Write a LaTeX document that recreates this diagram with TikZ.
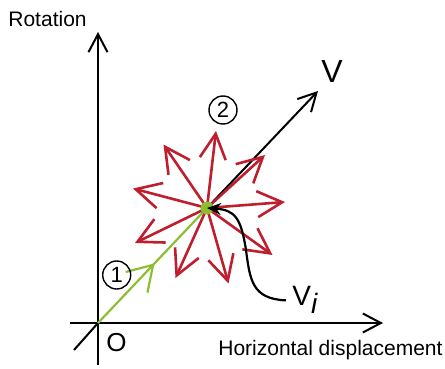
\documentclass[tikz,border=0pt]{standalone}
\usepackage{fontspec}
\setmainfont{Liberation Sans}
\usepackage{tikz}
\usetikzlibrary{arrows.meta,decorations.markings}
\definecolor{starred}{RGB}{190,30,45}
\definecolor{pathgreen}{RGB}{141,190,50}
\tikzset{
  axisline/.style = {-{Straight Barb[length=9pt,width=9.5pt]},line width=1pt},
  redarr/.style   = {-{Straight Barb[length=12.5pt,width=13pt]},line width=1.3pt,starred},
  greenarr/.style = {pathgreen,line width=1.1pt,postaction={decorate},
                     decoration={markings,mark=at position 0.52 with {\arrow{Straight Barb[length=12pt,width=15pt]}}}},
  curvearr/.style = {-{Stealth[length=7pt,width=6pt]},line width=1.1pt},
  numcirc/.style  = {circle,draw,line width=0.7pt,minimum size=14pt,inner sep=0pt,font=\fontsize{11}{12}\selectfont},
  tlabel/.style   = {inner sep=0pt,anchor=base west}
}

\begin{document}
\begin{tikzpicture}[x=0.5pt,y=-0.5pt]
  \useasboundingbox (0,0) rectangle (445,369);
  \coordinate (O) at (98,323);
  \coordinate (C) at (207,208);
  \coordinate (ybot) at (98,365);
  \coordinate (ytop) at (98,32);
  \coordinate (xleft) at (70,323);
  \coordinate (xright) at (383,323);
  \coordinate (tail) at (74,350);
  \coordinate (Vtip) at (318,91);
  \draw[axisline] (ybot) -- (ytop);
  \draw[axisline] (xleft) -- (xright);
  \draw[line width=1pt] (tail) -- (O);
  \draw[axisline] (C) -- (Vtip);
  \draw[greenarr] (O) -- (C);
  \foreach \dx/\dy [count=\k] in {9/-77,-43.5/-63.5,-74/-19.5,-72/35,-31.5/70,21.5/75.5,65.5/47,78/-6,58/-53}{
    \coordinate (r\k) at ([shift={(\dx,\dy)}]C);
    \draw[redarr] (C) -- (r\k);
  }
  \node[circle,fill=pathgreen,minimum size=6.5pt,inner sep=0pt] (dot) at (C) {};
  \node[tlabel,font=\fontsize{10.5}{12}\selectfont] (rot) at (8,27) {Rotation};
  \node[tlabel,font=\fontsize{10.5}{12}\selectfont] (hor) at (218,355) {Horizontal displacement};
  \node[tlabel,font=\fontsize{13}{15}\selectfont] (orig) at (106,351) {O};
  \node[tlabel,font=\fontsize{16}{18}\selectfont] (vlab) at (321,83) {V};
  \node[anchor=base west,inner sep=3pt,font=\fontsize{14}{16}\selectfont] (vi) at (286,306) {V\raisebox{-4pt}{\itshape i}};
  \node[numcirc] (n1) at (116.7,275) {1};
  \node[numcirc] (n2) at (223,110) {2};
  \draw[curvearr] (vi.west) .. controls (252,299) and (250,280) .. (246,250)
    .. controls (241,218) and (235,210) .. (C);
\end{tikzpicture}
\end{document}
